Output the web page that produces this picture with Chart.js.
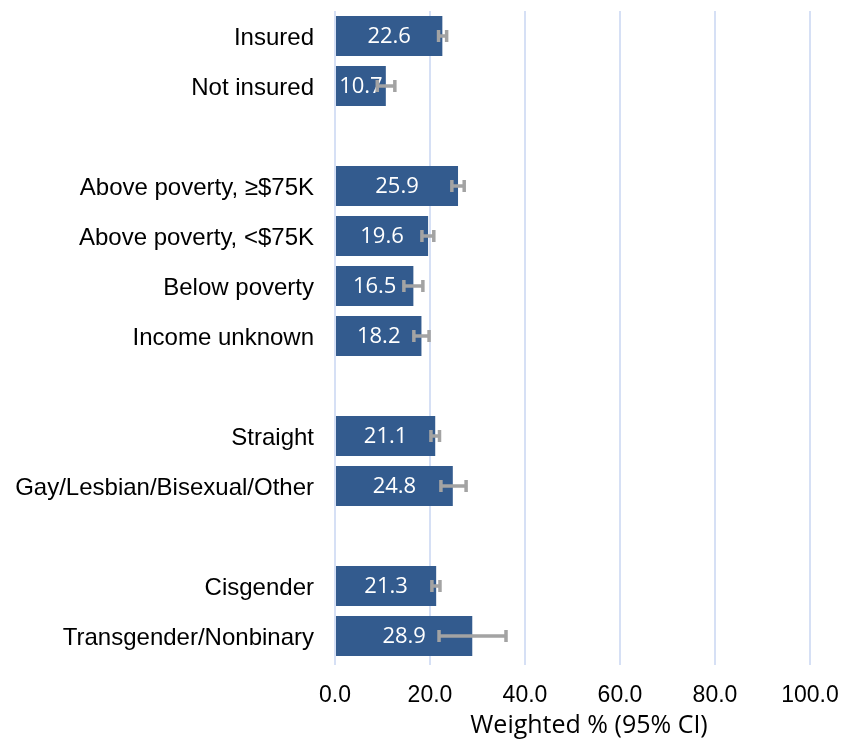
<!DOCTYPE html>
<html>
<head>
<meta charset="utf-8">
<script src="https://cdn.jsdelivr.net/npm/chart.js@4.4.1/dist/chart.umd.min.js"></script>
<style>
  body { margin: 0; background: #fff; }
  #wrap { width: 857px; height: 744px; }
</style>
</head>
<body>
<div id="wrap"><canvas id="chart" width="857" height="744"></canvas></div>
<script>
// blank categories make the gaps between groups
const categories = ['Insured', 'Not insured', '', 'Above poverty, ≥$75K', 'Above poverty, <$75K', 'Below poverty',
  'Income unknown', '', 'Straight', 'Gay/Lesbian/Bisexual/Other', '', 'Cisgender', 'Transgender/Nonbinary'];
const values = [22.6, 10.7, null, 25.9, 19.6, 16.5, 18.2, null, 21.1, 24.8, null, 21.3, 28.9];
const ciLow = [21.8, 8.9, null, 24.6, 18.3, 14.5, 16.6, null, 20.2, 22.3, null, 20.4, 21.9];
const ciHigh = [23.5, 12.6, null, 27.2, 20.8, 18.5, 19.8, null, 22.0, 27.6, null, 22.1, 36.0];
const xTicks = [0, 20, 40, 60, 80, 100];
const xTitle = 'Weighted % (95% CI)';

const barColor = '#335b8e';
const ciColor = '#a3a3a3';
const gridColor = '#d6e0f5';

const barLabels = {
  id: 'barLabels',
  afterDatasetsDraw(chart) {
    const ctx = chart.ctx;
    const meta = chart.getDatasetMeta(0);
    const xScale = chart.scales.x;
    ctx.save();
    ctx.font = '22px "Open Sans"';
    ctx.fillStyle = '#fff';
    ctx.textAlign = 'center';
    ctx.textBaseline = 'middle';
    meta.data.forEach((bar, i) => {
      if (values[i] == null) return;
      ctx.fillText(values[i].toFixed(1), (bar.x + bar.base) / 2, bar.y + 1);
    });
    // error bars drawn on top of the labels
    ctx.strokeStyle = ciColor;
    ctx.lineWidth = 3.5;
    meta.data.forEach((bar, i) => {
      if (ciLow[i] == null) return;
      const x1 = xScale.getPixelForValue(ciLow[i]);
      const x2 = xScale.getPixelForValue(ciHigh[i]);
      ctx.beginPath();
      ctx.moveTo(x1, bar.y);
      ctx.lineTo(x2, bar.y);
      ctx.moveTo(x1, bar.y - 6);
      ctx.lineTo(x1, bar.y + 6);
      ctx.moveTo(x2, bar.y - 6);
      ctx.lineTo(x2, bar.y + 6);
      ctx.stroke();
    });
    // axis title, centred under the whole axis block
    ctx.fillStyle = '#000';
    ctx.font = '25px "Open Sans"';
    ctx.fillText(xTitle, 589, 726);
    ctx.restore();
  }
};

new Chart(document.getElementById('chart').getContext('2d'), {
  type: 'bar',
  data: {
    labels: categories,
    datasets: [{
      data: values,
      backgroundColor: barColor,
      borderWidth: 0,
      categoryPercentage: 1,
      barPercentage: 0.8
    }]
  },
  plugins: [barLabels],
  options: {
    indexAxis: 'y',
    responsive: false,
    animation: false,
    events: [],
    layout: { padding: { top: 11, right: 47, bottom: 0, left: 0 } },
    plugins: {
      legend: { display: false },
      tooltip: { enabled: false }
    },
    scales: {
      x: {
        min: 0,
        max: 100,
        afterFit: (scale) => { scale.height = 83; },
        afterBuildTicks: (scale) => { scale.ticks = xTicks.map(v => ({ value: v })); },
        grid: { color: gridColor, lineWidth: 2, drawTicks: true, tickLength: 4 },
        border: { display: false },
        ticks: {
          color: '#000',
          font: { family: '"Liberation Sans", Arial', size: 23 },
          padding: 17,
          maxRotation: 0,
          callback: (v) => Number(v).toFixed(1)
        }
      },
      y: {
        afterFit: (scale) => {
          scale.width = 335;
          scale.paddingTop = 0;
          scale.paddingBottom = 0;
        },
        grid: { display: false, drawTicks: false },
        border: { display: false },
        ticks: {
          color: '#000',
          font: { family: '"Liberation Sans", Arial', size: 24 },
          padding: 21,
          labelOffset: 2,
          autoSkip: false
        }
      }
    }
  }
});
</script>
</body>
</html>
